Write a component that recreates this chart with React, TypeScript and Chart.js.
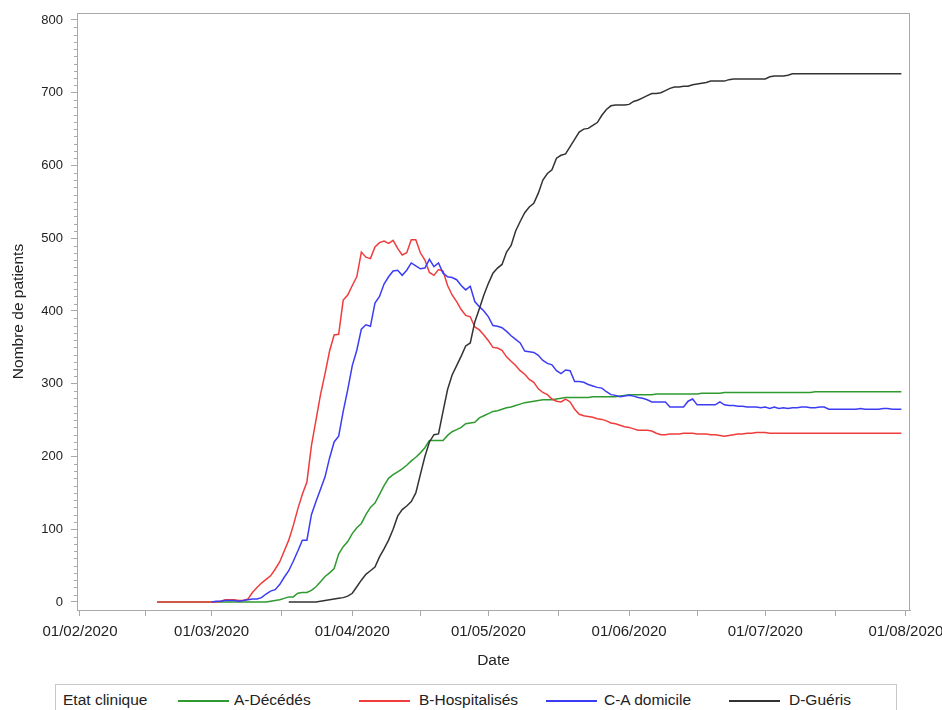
import { useEffect, useRef } from "react";
import { Chart, registerables } from "chart.js";

Chart.register(...registerables);

// ---------- data ----------
const originDate = "01/02/2020";
const monthTickLabels = ["01/02/2020", "01/03/2020", "01/04/2020", "01/05/2020", "01/06/2020", "01/07/2020", "01/08/2020"];
const yTickValues = [0, 100, 200, 300, 400, 500, 600, 700, 800];

const seriesNames = ["A-Décédés", "B-Hospitalisés", "C-A domicile", "D-Guéris"];
const seriesColors = ["#2f9a2f", "#f03c3c", "#3c3cf5", "#333333"];

const startDeces = "18/02/2020";
const deces = [
  0, 0, 0, 0, 0, 0, 0, 0, 0, 0, 0, 0, 0, 0, 0, 0, 0, 0, 0, 0, 0, 0, 0, 0,
  0, 1, 2, 3, 5, 7, 7, 12, 13, 13,
  16, 21, 28, 35, 40, 46, 66, 76, 83, 94,
  102, 108, 120, 130, 136, 148, 160, 170, 175, 179,
  183, 188, 194, 199, 205, 212, 222, 222, 222, 222,
  229, 234, 237, 240, 245, 246, 247, 253, 256, 259,
  262, 263, 265, 267, 268, 270, 272, 274, 275, 276,
  277, 278, 278, 278, 279, 280, 281, 281, 281, 281,
  281, 281, 282, 282, 282, 282, 282, 282, 283, 284,
  285, 285, 285, 285, 285, 285, 286, 286, 286, 286,
  286, 286, 286, 286, 286, 286, 287, 287, 287, 287,
  287, 288, 288, 288, 288, 288, 288, 288, 288, 288,
  288, 288, 288, 288, 288, 288, 288, 288, 288, 288,
  288, 289, 289, 289, 289, 289, 289, 289, 289, 289,
  289, 289, 289, 289, 289, 289, 289, 289, 289, 289, 289,
];

const startHosp = "18/02/2020";
const hospitalises = [
  0, 0, 0, 0, 0, 0, 0, 0, 0, 0, 0, 0, 0, 0,
  1, 3, 3, 3, 2, 2,
  4, 13, 20, 26, 31, 36, 45, 55, 70, 85, 105, 128, 148, 165,
  215, 250, 285, 314, 345, 367, 368, 415, 422, 435,
  447, 481, 474, 472, 488, 494, 496, 493, 497, 486,
  477, 480, 498, 498, 480, 470, 453, 449, 457, 455,
  435, 422, 413, 402, 394, 392, 378, 374, 367, 359,
  350, 349, 346, 337, 331, 325, 318, 313, 306, 302,
  293, 288, 285, 279, 276, 275, 279, 275, 265, 258,
  256, 255, 254, 252, 251, 249, 246, 245, 243, 241,
  240, 238, 236, 236, 236, 235, 232, 230, 230, 231,
  231, 231, 232, 232, 232, 231, 231, 231, 230, 230,
  229, 228, 229, 230, 231, 231, 232, 232, 233, 233,
  233, 232, 232, 232, 232, 232, 232, 232, 232, 232,
  232, 232, 232, 232, 232, 232, 232, 232, 232, 232,
  232, 232, 232, 232, 232, 232, 232, 232, 232, 232, 232,
];

const startDomicile = "01/03/2020";
const domicile = [
  0, 1, 1, 2, 2, 2, 1, 2,
  3, 4, 4, 6, 11, 15, 17, 24, 34, 43, 56, 70, 85, 85,
  120, 138, 155, 172, 198, 220, 228, 262, 292, 325,
  346, 375, 381, 379, 411, 420, 437, 447, 455, 456,
  449, 456, 466, 462, 458, 459, 471, 461, 466, 452,
  447, 446, 443, 435, 429, 434, 413, 406, 400, 392,
  380, 379, 377, 372, 366, 361, 356, 345, 344, 343,
  339, 332, 328, 326, 318, 314, 319, 318, 303, 303,
  302, 299, 297, 295, 294, 289, 285, 284, 282, 283,
  284, 283, 281, 280, 278, 275, 275, 275, 275, 268,
  268, 268, 268, 276, 279, 271, 271, 271, 271, 271,
  275, 271, 270, 270, 269, 269, 268, 268, 268, 267,
  268, 266, 268, 266, 267, 266, 267, 267, 268, 268,
  267, 267, 268, 268, 265, 265, 265, 265, 265, 265,
  265, 266, 265, 265, 265, 265, 266, 266, 265, 265, 265,
];

const startGueris = "18/03/2020";
const gueris = [
  0, 0, 0, 0, 0, 0, 0, 1, 2, 3, 4,
  5, 6, 8, 12,
  21, 30, 38, 43, 48, 62, 73, 85, 100, 118,
  127, 132, 138, 150, 175, 200, 220, 230, 231, 262,
  292, 312, 325, 338, 352, 356, 385, 403, 422, 438,
  452, 459, 464, 481, 490, 510, 523, 535, 543, 548,
  562, 580, 589, 594, 610, 614, 616, 626, 636, 646,
  650, 651, 655, 659, 669, 677, 682, 683, 683, 683,
  684, 688, 690, 693, 696, 699, 699, 700, 703, 706,
  708, 708, 709, 709, 711, 712, 713, 714, 716, 716,
  716, 716, 718, 719, 719, 719, 719, 719, 719, 719,
  719, 722, 723, 723, 723, 724, 726, 726, 726, 726,
  726, 726, 726, 726, 726, 726, 726, 726, 726, 726,
  726, 726, 726, 726, 726, 726, 726, 726, 726, 726, 726,
];

// ---------- helpers ----------
const parseDate = (s: string) => {
  const [d, m, y] = s.split("/").map(Number);
  return Date.UTC(y, m - 1, d);
};
const dayOf = (s: string) => Math.round((parseDate(s) - parseDate(originDate)) / 86400000);
const toPoints = (start: string, values: number[]) => {
  const s0 = dayOf(start);
  return values.map((v, i) => ({ x: s0 + i, y: v }));
};

const monthTickDays = monthTickLabels.map(dayOf);
const midMonthDays = monthTickDays.slice(1).map((d, i) => (d + monthTickDays[i]) / 2);
const allXTicks = [...monthTickDays, ...midMonthDays].sort((a, b) => a - b);

const FONT = "'Liberation Sans', Arial, Helvetica, sans-serif";
const AXIS = "#a9a9a9";
const TEXT = "#222222";

const framePlugin = {
  id: "frameAndMinor",
  afterDraw(chart: any) {
    const { ctx, chartArea } = chart;
    const y = chart.scales.y;
    ctx.save();
    ctx.strokeStyle = AXIS;
    ctx.lineWidth = 1;
    ctx.strokeRect(chartArea.left + 0.5, chartArea.top + 0.5, chartArea.right - chartArea.left - 1, chartArea.bottom - chartArea.top);
    // minor y ticks
    ctx.beginPath();
    for (let v = 10; v < 800; v += 10) {
      if (v % 100 === 0) continue;
      const py = Math.round(y.getPixelForValue(v)) + 0.5;
      ctx.moveTo(chartArea.left - 3, py);
      ctx.lineTo(chartArea.left, py);
    }
    ctx.stroke();
    ctx.restore();
  },
};

export default function App() {
  const ref = useRef<HTMLCanvasElement | null>(null);

  useEffect(() => {
    if (!ref.current) return;
    const starts = [startDeces, startHosp, startDomicile, startGueris];
    const values = [deces, hospitalises, domicile, gueris];
    const chart = new Chart(ref.current, {
      type: "line",
      data: {
        datasets: seriesNames.map((name, i) => ({
          label: name,
          data: toPoints(starts[i], values[i]),
          borderColor: seriesColors[i],
          backgroundColor: seriesColors[i],
          borderWidth: 1.5,
          pointRadius: 0,
          tension: 0,
          fill: false,
          order: 4 - i,
        })),
      },
      options: {
        responsive: false,
        animation: false,
        layout: { padding: { top: 13, right: 32, left: 0, bottom: 0 } },
        plugins: { legend: { display: false }, tooltip: { enabled: false } },
        scales: {
          x: {
            type: "linear",
            min: -0.66,
            max: 182.9,
            afterBuildTicks: (s: any) => {
              s.ticks = allXTicks.map((v) => ({ value: v }));
            },
            afterFit: (s: any) => {
              s.height = 70;
              s.paddingLeft = 0;
              s.paddingRight = 0;
            },
            ticks: {
              autoSkip: false,
              maxRotation: 0,
              padding: 7,
              color: TEXT,
              font: { family: FONT, size: 15 },
              callback: (v: any) => {
                const k = monthTickDays.indexOf(Number(v));
                return k >= 0 ? monthTickLabels[k] : "";
              },
            },
            grid: { drawOnChartArea: false, tickLength: 6, color: AXIS },
            border: { color: AXIS },
            title: { display: true, text: "Date", color: TEXT, font: { family: FONT, size: 15.5 }, padding: { top: 0, bottom: 10 } },
          },
          y: {
            type: "linear",
            min: -11,
            max: 809.6,
            afterBuildTicks: (s: any) => {
              s.ticks = yTickValues.map((v) => ({ value: v }));
            },
            afterFit: (s: any) => {
              s.width = 77;
              s.paddingTop = 0;
              s.paddingBottom = 0;
            },
            ticks: { padding: 8, color: TEXT, font: { family: FONT, size: 13 } },
            grid: { drawOnChartArea: false, tickLength: 6, color: AXIS },
            border: { color: AXIS },
            title: { display: true, text: "Nombre de patients", color: TEXT, font: { family: FONT, size: 15.5 }, padding: { top: 9, bottom: 0 } },
          },
        },
      },
      plugins: [framePlugin],
    });
    return () => chart.destroy();
  }, []);

  const legendItems = [
    { lineLeft: 177, textLeft: 233 },
    { lineLeft: 358, textLeft: 418 },
    { lineLeft: 545, textLeft: 603 },
    { lineLeft: 728, textLeft: 788 },
  ];

  return (
    <div style={{ position: "absolute", left: 0, top: 0, width: 942, height: 710, overflow: "hidden", background: "#fff", fontFamily: FONT }}>
      <canvas ref={ref} width={942} height={680} style={{ position: "absolute", left: 0, top: 0 }} />
      <div style={{ position: "absolute", left: 55, top: 684, width: 842, height: 40, border: "1px solid #c8c8c8", boxSizing: "border-box" }}>
        <span style={{ position: "absolute", left: 7, top: 6, fontSize: 15.5, color: TEXT, whiteSpace: "nowrap" }}>Etat clinique</span>
        {seriesNames.map((name, i) => (
          <div key={name}>
            <div style={{ position: "absolute", left: legendItems[i].lineLeft - 55, top: 15, width: 51, height: 2, background: seriesColors[i] }} />
            <span style={{ position: "absolute", left: legendItems[i].textLeft - 55, top: 6, fontSize: 15.5, color: TEXT, whiteSpace: "nowrap" }}>{name}</span>
          </div>
        ))}
      </div>
    </div>
  );
}
